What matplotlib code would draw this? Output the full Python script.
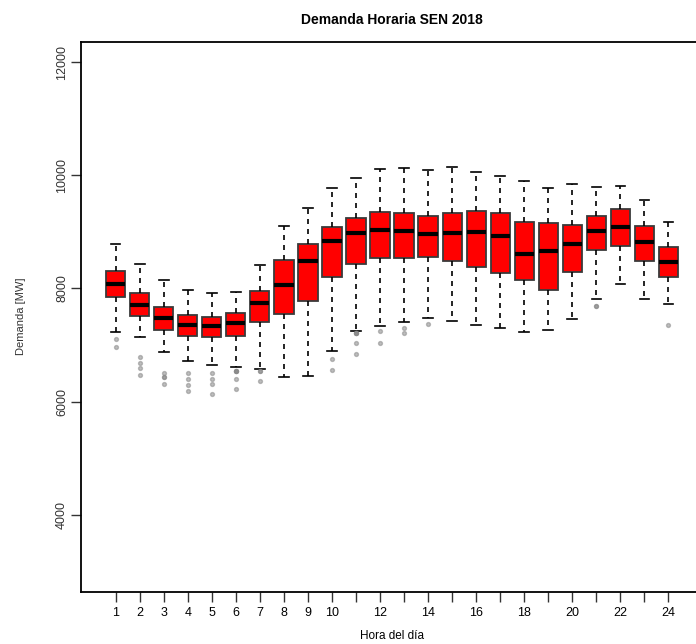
import matplotlib as mpl
mpl.use('Agg')
import matplotlib.pyplot as plt

# hourly demand statistics (MW)
horas = list(range(1, 25))
whisker_lo = [7226, 7138, 6872, 6725, 6642, 6619, 6571, 6430, 6448, 6902, 7239, 7333,
              7398, 7474, 7421, 7350, 7297, 7226, 7262, 7456, 7810, 8076, 7810, 7722]
q1 = [7846, 7510, 7274, 7156, 7138, 7168, 7398, 7545, 7775, 8200, 8430, 8536,
      8536, 8554, 8478, 8377, 8271, 8147, 7970, 8288, 8685, 8743, 8483, 8200]
mediana = [8076, 7704, 7474, 7357, 7333, 7393, 7734, 8058, 8490, 8844, 8986, 9032,
           9014, 8961, 8986, 9003, 8926, 8607, 8667, 8784, 9021, 9085, 8826, 8465]
q3 = [8301, 7911, 7669, 7527, 7492, 7563, 7947, 8501, 8779, 9079, 9244, 9345,
      9333, 9280, 9333, 9368, 9333, 9173, 9156, 9120, 9280, 9403, 9103, 8731]
whisker_hi = [8779, 8425, 8147, 7970, 7917, 7934, 8412, 9097, 9421, 9775, 9952, 10106,
              10129, 10088, 10154, 10058, 9988, 9899, 9775, 9846, 9793, 9811, 9563, 9173]
atipicos = [
    [7109, 6961],
    [6784, 6690, 6596, 6478],
    [6501, 6442, 6442, 6313],
    [6501, 6395, 6295, 6194],
    [6501, 6402, 6313, 6136],
    [6536, 6536, 6536, 6536, 6395, 6218],
    [6536, 6536, 6359],
    [],
    [],
    [6761, 6566],
    [7209, 7209, 7209, 7209, 7044, 6849],
    [7256, 7044],
    [7297, 7221],
    [7368],
    [],
    [],
    [],
    [],
    [],
    [],
    [7687, 7687],
    [],
    [],
    [7350],
]
etiquetas_x = [str(h) if (h <= 10 or h % 2 == 0) else '' for h in horas]

plt.rcParams['font.family'] = ['Liberation Sans', 'DejaVu Sans']

dpi = 100
fig = plt.figure(dpi=dpi, figsize=(696 / dpi, 644 / dpi))
ax = fig.add_axes([0.1158, 0.0812, 0.895, 0.854])

stats = []
for i in range(len(horas)):
    stats.append({'whislo': whisker_lo[i], 'q1': q1[i], 'med': mediana[i],
                  'q3': q3[i], 'whishi': whisker_hi[i], 'fliers': atipicos[i]})

ax.bxp(stats, positions=horas, widths=0.8, patch_artist=True,
       boxprops=dict(facecolor='#ff0000', edgecolor='#3a3a3a', linewidth=1.3),
       medianprops=dict(color='black', linewidth=3, solid_capstyle='butt'),
       whiskerprops=dict(color='black', linewidth=1.2, linestyle=(0, (3, 3))),
       capprops=dict(color='black', linewidth=1.2),
       capwidths=0.4,
       flierprops=dict(marker='o', markersize=2.8, markerfacecolor='#8a8a8a',
                       markeredgecolor='#8a8a8a', alpha=0.55, linestyle='none'))

ax.set_xlim(-0.46, 25.46)
ax.set_ylim(2640, 12360)
ax.set_xticks(horas)
ax.set_xticklabels(etiquetas_x, fontsize=9)
ax.set_yticks([4000, 6000, 8000, 10000, 12000])
ax.set_yticklabels(['4000', '6000', '8000', '10000', '12000'], rotation=90,
                   va='center', fontsize=9, color='#333333')
ax.tick_params(axis='both', direction='out', length=7, width=1, color='#333333')
ax.tick_params(axis='x', pad=4)
ax.tick_params(axis='y', pad=2)
for s in ax.spines.values():
    s.set_linewidth(1.3)

ax.set_title('Demanda Horaria SEN 2018', fontsize=10, fontweight='bold', pad=13)
ax.set_xlabel('Hora del día', fontsize=8.5, labelpad=8)
ax.set_ylabel('Demanda [MW]', fontsize=8, labelpad=22, color='#333333')

fig.savefig('out.png', dpi=dpi)
